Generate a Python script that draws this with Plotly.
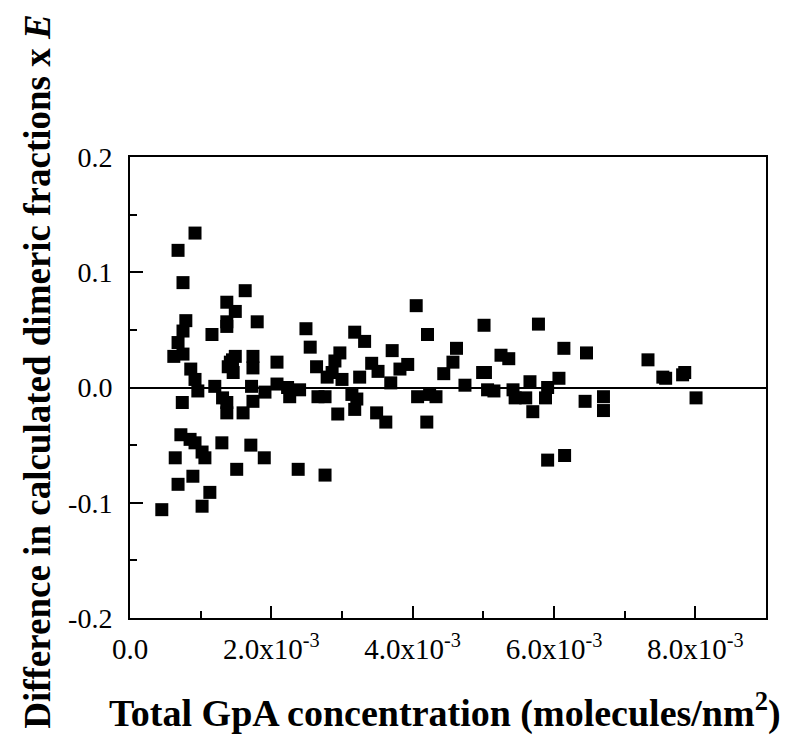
import plotly.graph_objects as go

# Total GpA concentration (molecules/nm^2)
conc = [
    0.00045, 0.00064, 0.00062, 0.00068, 0.00068, 0.00068, 0.00072, 0.00074, 0.00075, 0.00075,
    0.00075, 0.00079, 0.00086, 0.00085, 0.00089, 0.00092, 0.00092, 0.00092, 0.00096, 0.00102,
    0.00106, 0.00102, 0.00113, 0.00116, 0.00120, 0.00130, 0.00131, 0.00137, 0.00137, 0.00137,
    0.00137, 0.00137, 0.00139, 0.00146, 0.00149, 0.00149, 0.00151, 0.00160, 0.00163, 0.00171,
    0.00172, 0.00174, 0.00174, 0.00174, 0.00180, 0.00190, 0.00142, 0.00145,
    0.00191, 0.00208, 0.00208, 0.00223, 0.00226, 0.00238, 0.00240, 0.00249, 0.00255, 0.00264,
    0.00266, 0.00276, 0.00276, 0.00279, 0.00286, 0.00290, 0.00294, 0.00297, 0.00300, 0.00314,
    0.00318, 0.00318, 0.00321, 0.00325,
    0.00332, 0.00342, 0.00349, 0.00351, 0.00362, 0.00369, 0.00371, 0.00382, 0.00393, 0.00405,
    0.00407, 0.00420, 0.00421, 0.00424, 0.00433, 0.00444, 0.00457, 0.00462, 0.00474, 0.00499,
    0.00501, 0.00503, 0.00506,
    0.00515, 0.00525, 0.00536, 0.00542, 0.00545, 0.00560, 0.00566, 0.00570, 0.00578, 0.00588,
    0.00591, 0.00591, 0.00607, 0.00614, 0.00615, 0.00644, 0.00646, 0.00670, 0.00670,
    0.00733, 0.00754, 0.00758, 0.00785, 0.00782, 0.00801,
]
# Difference in calculated dimeric fractions x E
diff = [
    -0.106, -0.061, 0.027, 0.119, 0.039, -0.084, -0.041, -0.013, 0.091, 0.049,
    0.029, 0.058, 0.016, -0.045, -0.077, 0.134, 0.007, -0.048, -0.003, -0.056,
    -0.061, -0.103, -0.091, 0.046, 0.001, -0.048, -0.009, -0.013, -0.022, 0.074,
    0.057, 0.053, 0.018, 0.013, 0.027, 0.066, -0.071, -0.022, 0.084, -0.050,
    0.001, 0.027, 0.017, -0.012, 0.057, -0.061, 0.022, 0.024,
    -0.004, 0.022, 0.003, 0.000, -0.008, -0.071, -0.002, 0.051, 0.035, 0.018,
    -0.008, -0.008, -0.076, 0.009, 0.013, 0.023, -0.023, 0.030, 0.007, -0.006,
    0.048, -0.019, -0.010, 0.009,
    0.040, 0.021, -0.022, 0.014, -0.030, 0.004, 0.032, 0.016, 0.020, 0.071,
    -0.008, -0.030, 0.046, -0.006, -0.008, 0.012, 0.022, 0.034, 0.002, 0.013,
    0.054, 0.013, -0.002,
    -0.003, 0.028, 0.025, -0.002, -0.009, -0.009, 0.005, -0.021, 0.055, -0.009,
    0.000, -0.063, 0.008, 0.034, -0.059, -0.012, 0.030, -0.008, -0.020,
    0.024, 0.009, 0.008, 0.013, 0.011, -0.009,
]

x_tickvals = [0, 0.002, 0.004, 0.006, 0.008]
x_ticktext = ["0.0", "2.0x10<sup>-3</sup>", "4.0x10<sup>-3</sup>",
              "6.0x10<sup>-3</sup>", "8.0x10<sup>-3</sup>"]
y_tickvals = [-0.2, -0.1, 0.0, 0.1, 0.2]
y_ticktext = ["-0.2", "-0.1", "0.0", "0.1", "0.2"]

FONT = "Liberation Serif"

fig = go.Figure()
fig.add_trace(go.Scatter(
    x=conc, y=diff, mode="markers",
    marker=dict(symbol="square", size=13, color="black", line=dict(width=0)),
    showlegend=False,
))

fig.update_layout(
    width=787, height=745,
    margin=dict(l=130, r=21, t=157, b=127),
    paper_bgcolor="white", plot_bgcolor="white",
    font=dict(family=FONT, color="black", size=29),
    xaxis=dict(
        range=[0, 0.009], tickvals=x_tickvals, ticktext=x_ticktext,
        ticks="inside", ticklen=12, tickwidth=2, tickcolor="black",
        minor=dict(dtick=0.001, tick0=0, ticks="inside", ticklen=7, tickwidth=2, tickcolor="black"),
        showline=True, linewidth=2, linecolor="black", mirror=True,
        showgrid=False, zeroline=False,
        tickfont=dict(family=FONT, size=29),
        ticklabelstandoff=4,
    ),
    yaxis=dict(
        range=[-0.2, 0.2], tickvals=y_tickvals, ticktext=y_ticktext,
        ticks="inside", ticklen=13, tickwidth=2, tickcolor="black",
        minor=dict(dtick=0.05, tick0=0, ticks="inside", ticklen=7, tickwidth=2, tickcolor="black"),
        showline=True, linewidth=2, linecolor="black", mirror=True,
        showgrid=False, zeroline=True, zerolinecolor="black", zerolinewidth=2,
        tickfont=dict(family=FONT, size=28),
        ticklabelstandoff=10,
    ),
    annotations=[
        dict(text="<b>Total GpA concentration (molecules/nm<sup>2</sup>)</b>",
             xref="paper", yref="paper", x=0.495, y=-0.2,
             xanchor="center", yanchor="middle", showarrow=False,
             font=dict(family=FONT, size=38, color="black")),
        dict(text="<b>Difference in calculated dimeric fractions x <i>E</i></b>",
             xref="paper", yref="paper", x=-0.1447, y=0.534, textangle=-90,
             xanchor="center", yanchor="middle", showarrow=False,
             font=dict(family=FONT, size=37, color="black")),
    ],
)

fig.write_html("out.html")
